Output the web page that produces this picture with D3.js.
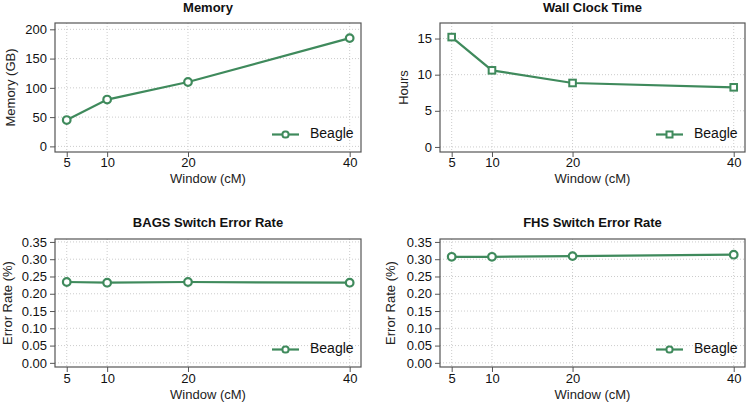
<!DOCTYPE html>
<html><head><meta charset="utf-8">
<script src="https://cdn.jsdelivr.net/npm/d3@7"></script>
<style>body{margin:0;background:#fff}svg{display:block;font-family:"Liberation Sans",Arial,sans-serif}</style>
</head><body>
<svg id="c" width="747" height="405"></svg>
<script>
const windows = [5, 10, 20, 40];
const xTicks = [5, 10, 20, 40];
const memory = [45, 80, 110, 185];
const hours = [15.2, 10.6, 8.85, 8.25];
const bagsErr = [0.234, 0.232, 0.234, 0.232];
const fhsErr = [0.307, 0.307, 0.309, 0.313];
const memTicks = [0, 50, 100, 150, 200];
const hourTicks = [0, 5, 10, 15];
const errTicks = [0, 0.05, 0.10, 0.15, 0.20, 0.25, 0.30, 0.35];
const seriesName = "Beagle";

const color = "#3f8a5c";
const svg = d3.select("#c");

const panels = [
  {title:"Memory", ylab:"Memory (GB)", vals:memory, ticks:memTicks, fmt:d3.format("d"),
   box:{l:55,r:361,t:23,b:152}, ydom:[-9.6,210.8], shape:"circle", ylabX:12, tickLabY:164, xlabY:180, titleY:12},
  {title:"Wall Clock Time", ylab:"Hours", vals:hours, ticks:hourTicks, fmt:d3.format("d"),
   box:{l:440,r:745,t:23,b:152}, ydom:[-0.7,17.15], shape:"square", ylabX:405, tickLabY:164, xlabY:180, titleY:12},
  {title:"BAGS Switch Error Rate", ylab:"Error Rate (%)", vals:bagsErr, ticks:errTicks, fmt:d3.format(".2f"),
   box:{l:55,r:361,t:239,b:367}, ydom:[-0.012,0.3585], shape:"circle", ylabX:9, tickLabY:380, xlabY:396, titleY:227},
  {title:"FHS Switch Error Rate", ylab:"Error Rate (%)", vals:fhsErr, ticks:errTicks, fmt:d3.format(".2f"),
   box:{l:440,r:745,t:239,b:367}, ydom:[-0.012,0.3585], shape:"circle", ylabX:392, tickLabY:380, xlabY:396, titleY:227}
];

panels.forEach(p => {
  const b = p.box;
  const x = d3.scaleLinear().domain([3.55, 41.4]).range([b.l, b.r]);
  const y = d3.scaleLinear().domain(p.ydom).range([b.b, b.t]);
  const g = svg.append("g");

  // grid
  g.selectAll(".gx").data(xTicks).join("line")
    .attr("x1", d=>x(d)).attr("x2", d=>x(d)).attr("y1", b.t).attr("y2", b.b)
    .attr("stroke", "#cccccc").attr("stroke-width", 1).attr("stroke-dasharray", "1,2");
  g.selectAll(".gy").data(p.ticks).join("line")
    .attr("x1", b.l).attr("x2", b.r).attr("y1", d=>y(d)).attr("y2", d=>y(d))
    .attr("stroke", "#cccccc").attr("stroke-width", 1).attr("stroke-dasharray", "1,2");

  // axes
  const yAxis = d3.axisLeft(y).tickValues(p.ticks).tickFormat(p.fmt).tickSize(5).tickPadding(3);
  const ya = g.append("g").attr("transform", `translate(${b.l},0)`).call(yAxis);
  const xAxis = d3.axisBottom(x).tickValues(xTicks).tickSize(5).tickPadding(3);
  const xa = g.append("g").attr("transform", `translate(0,${b.b})`).call(xAxis);
  [ya, xa].forEach(a => {
    a.select(".domain").remove();
    a.selectAll(".tick line").attr("stroke", "#555");
    a.selectAll(".tick text").attr("fill", "#111").style("font-size", "13px").style("font-family", "'Liberation Sans',Arial,sans-serif");
  });
  xa.selectAll(".tick text").attr("dy", null).attr("y", null)
    .attr("transform", `translate(0,${p.tickLabY - b.b})`).attr("dominant-baseline", "middle");

  // box
  g.append("rect").attr("x", b.l).attr("y", b.t).attr("width", b.r-b.l).attr("height", b.b-b.t)
    .attr("fill", "none").attr("stroke", "#555").attr("stroke-width", 1.2);

  // line
  const pts = windows.map((w,i)=>[w, p.vals[i]]);
  g.append("path").datum(pts)
    .attr("d", d3.line().x(d=>x(d[0])).y(d=>y(d[1])))
    .attr("fill", "none").attr("stroke", color).attr("stroke-width", 2.2);
  const drawMarker = (sel) => {
    if (p.shape === "square") {
      sel.append("rect").attr("x", -3.3).attr("y", -3.3).attr("width", 6.6).attr("height", 6.6)
        .attr("fill", "#fff").attr("stroke", color).attr("stroke-width", 2);
    } else {
      sel.append("circle").attr("r", 3.8).attr("fill", "#fff").attr("stroke", color).attr("stroke-width", 2.2);
    }
  };
  g.selectAll(".pt").data(pts).join("g")
    .attr("transform", d=>`translate(${x(d[0])},${y(d[1])})`)
    .each(function(){ drawMarker(d3.select(this)); });

  // legend
  const ly = b.b - 17.5;
  const lx = b.r - 89;
  g.append("line").attr("x1", lx).attr("x2", lx+27).attr("y1", ly).attr("y2", ly)
    .attr("stroke", color).attr("stroke-width", 2.2);
  const lm = g.append("g").attr("transform", `translate(${lx+13.5},${ly})`);
  if (p.shape === "square") {
    lm.append("rect").attr("x",-3).attr("y",-3).attr("width",6).attr("height",6)
      .attr("fill","#fff").attr("stroke",color).attr("stroke-width",2);
  } else {
    lm.append("rect").attr("x",-3).attr("y",-3).attr("width",6).attr("height",6).attr("rx",2.5)
      .attr("fill","#fff").attr("stroke",color).attr("stroke-width",2);
  }
  g.append("text").attr("x", lx+38).attr("y", ly).attr("dominant-baseline", "middle")
    .style("font-size", "14px").attr("fill", "#111").text(seriesName);

  // titles
  g.append("text").attr("x", (b.l+b.r)/2).attr("y", p.titleY).attr("text-anchor", "middle")
    .style("font-size", "13px").style("font-weight", "bold")
    .attr("fill", "#111").text(p.title);
  g.append("text").attr("x", (b.l+b.r)/2).attr("y", p.xlabY).attr("text-anchor", "middle")
    .attr("dominant-baseline", "middle").style("font-size", "13px").attr("fill", "#222").text("Window (cM)");
  g.append("text").attr("transform", `translate(${p.ylabX},${(b.t+b.b)/2}) rotate(-90)`)
    .attr("text-anchor", "middle").attr("dominant-baseline", "middle")
    .style("font-size", "13px").attr("fill", "#222").text(p.ylab);
});
</script>
</body></html>
